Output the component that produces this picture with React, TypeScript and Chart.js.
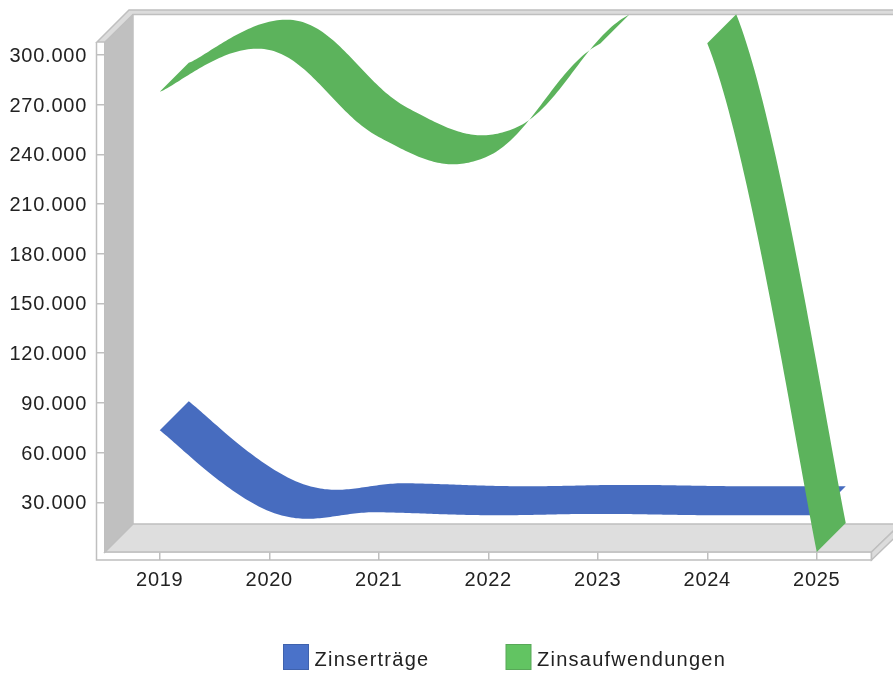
import React, { useEffect, useRef } from "react";
import { Chart, registerables } from "chart.js";

Chart.register(...registerables);

const categories = ["2019", "2020", "2021", "2022", "2023", "2024", "2025"];
const yTickValues = [30000, 60000, 90000, 120000, 150000, 180000, 210000, 240000, 270000, 300000];
const zinsertraege = [73500, 24600, 24000, 22200, 23000, 22200, 22200];
const zinsaufwendungen = [277700, 303000, 250500, 239000, 306000, 307000, 0];
const seriesNames = ["Zinserträge", "Zinsaufwendungen"];
const ribbonColors = ["#476cbf", "#5cb35c"];
const legendFills = ["#4a72c9", "#62c462"];
const legendBorders = ["#3f62ad", "#58a858"];

const FONT = '"Liberation Sans", Arial, sans-serif';
const LINE = "#bfbfbf";
const DEPTH = 29;
const TOP = 14.5;
const WIDTH = 893;
const HANDLE_X = 0.19;
const HANDLE_Y = 0.205;

const numberLabel = (v: number) => String(v).replace(/\B(?=(\d{3})+(?!\d))/g, ".");

const spacing = {
  id: "spacing",
  beforeDraw(chart: any) {
    chart.ctx.letterSpacing = "0.75px";
    const y = chart.scales.y;
    if (!y.__shifted) {
      y.__shifted = true;
      const draw = y.drawLabels.bind(y);
      y.drawLabels = (area: any) => {
        chart.ctx.save();
        chart.ctx.translate(0, 1.5);
        draw(area);
        chart.ctx.restore();
      };
    }
  },
};

const walls = {
  id: "walls",
  beforeDatasetsDraw(chart: any) {
    const { ctx, chartArea: a } = chart;
    const poly = (pts: number[][], fill: string, stroke = LINE) => {
      ctx.beginPath();
      pts.forEach(([x, y], i) => (i ? ctx.lineTo(x, y) : ctx.moveTo(x, y)));
      ctx.closePath();
      ctx.fillStyle = fill;
      ctx.fill();
      ctx.strokeStyle = stroke;
      ctx.lineWidth = 1.5;
      ctx.stroke();
    };
    const bx = a.left + DEPTH - 1;
    const by = a.bottom - DEPTH + 1;
    ctx.save();
    poly([[a.left, a.top], [bx, TOP], [bx, by], [a.left, a.bottom]], "#c0c0c0", "#c0c0c0");
    poly([[a.left, a.bottom], [bx, by], [a.right + DEPTH, by], [a.right, a.bottom]], "#dedede");
    poly([[a.left - 8, a.top], [a.left - 8 + DEPTH + 3, 10], [WIDTH + 2, 10], [WIDTH + 2, TOP], [bx, TOP], [a.left, a.top]], "#dcdcdc");
    ctx.strokeStyle = LINE;
    ctx.lineWidth = 1.5;
    ctx.beginPath();
    ctx.moveTo(a.left - 8.5, a.top);
    ctx.lineTo(a.left - 8.5, a.bottom + 8);
    ctx.lineTo(a.right, a.bottom + 8);
    ctx.lineTo(a.right, a.bottom);
    ctx.stroke();
    poly([[a.right, a.bottom], [a.right + DEPTH, by], [a.right + DEPTH, by + 8], [a.right, a.bottom + 8]], "#dcdcdc");
    ctx.restore();
  },
};

const ribbons = {
  id: "ribbons",
  afterDatasetsDraw(chart: any) {
    const { ctx, chartArea: a } = chart;
    ctx.save();
    ctx.beginPath();
    ctx.rect(a.left, TOP, WIDTH - a.left, a.bottom - TOP);
    ctx.clip();
    chart.data.datasets.forEach((ds: any, di: number) => {
      const pts = chart.getDatasetMeta(di).data;
      const n = pts.length;
      let run: number[][] = [];
      const flush = () => {
        if (run.length > 1) {
          ctx.beginPath();
          run.forEach(([x, y], i) => (i ? ctx.lineTo(x, y) : ctx.moveTo(x, y)));
          for (let i = run.length - 1; i >= 0; i--) ctx.lineTo(run[i][0] + DEPTH, run[i][1] - DEPTH);
          ctx.closePath();
          ctx.fillStyle = ds.ribbonColor;
          ctx.fill();
        }
        run = [];
      };
      for (let s = 0; s < n - 1; s++) {
        const p = pts[s];
        const q = pts[s + 1];
        const before = pts[Math.max(s - 1, 0)];
        const after = pts[Math.min(s + 2, n - 1)];
        const c1x = p.x + HANDLE_X * (q.x - before.x);
        const c1y = p.y + HANDLE_Y * (q.y - before.y);
        const c2x = q.x - HANDLE_X * (after.x - p.x);
        const c2y = q.y - HANDLE_Y * (after.y - p.y);
        let exited = false;
        for (let k = 0; k <= 48; k++) {
          const t = k / 48;
          const u = 1 - t;
          const x = u * u * u * p.x + 3 * u * u * t * c1x + 3 * u * t * t * c2x + t * t * t * q.x;
          const y = u * u * u * p.y + 3 * u * u * t * c1y + 3 * u * t * t * c2y + t * t * t * q.y;
          if (y - DEPTH < TOP - 1) {
            exited = true;
            break;
          }
          run.push([x, y]);
        }
        if (exited) flush();
      }
      flush();
    });
    ctx.restore();
  },
};

const legendBoxes = {
  id: "legendBoxes",
  afterDraw(chart: any) {
    const { ctx } = chart;
    const xs = [283.5, 506];
    ctx.save();
    ctx.font = `20px ${FONT}`;
    ctx.letterSpacing = "1.25px";
    ctx.textBaseline = "middle";
    ctx.textAlign = "left";
    chart.data.datasets.forEach((ds: any, i: number) => {
      ctx.fillStyle = ds.backgroundColor;
      ctx.strokeStyle = ds.borderColor;
      ctx.lineWidth = 1;
      ctx.fillRect(xs[i], 644.5, 25, 25);
      ctx.strokeRect(xs[i], 644.5, 25, 25);
      ctx.fillStyle = "#222";
      ctx.fillText(ds.label, xs[i] + 31, 660);
    });
    ctx.restore();
  },
};

export default function App() {
  const ref = useRef<HTMLCanvasElement>(null);
  useEffect(() => {
    const chart = new Chart(ref.current as HTMLCanvasElement, {
      type: "line",
      data: {
        labels: categories,
        datasets: [zinsertraege, zinsaufwendungen].map((data, i) => ({
          label: seriesNames[i],
          data,
          showLine: false,
          pointRadius: 0,
          backgroundColor: legendFills[i],
          borderColor: legendBorders[i],
          ribbonColor: ribbonColors[i],
        })),
      } as any,
      options: {
        animation: false,
        responsive: false,
        layout: { padding: { top: 42, left: 0, right: 21.5, bottom: 0 } },
        plugins: { legend: { display: false }, tooltip: { enabled: false } },
        scales: {
          x: {
            offset: true,
            afterFit: (s: any) => { s.height = 121; },
            grid: { offset: false, drawOnChartArea: false, tickLength: 8, color: LINE, lineWidth: 1.5 },
            border: { color: LINE, width: 1.5 },
            ticks: { color: "#222", padding: 8, font: { family: FONT, size: 20 }, maxRotation: 0 },
          },
          y: {
            min: 0,
            max: 307800,
            afterFit: (s: any) => { s.width = 105; },
            afterBuildTicks: (s: any) => { s.ticks = yTickValues.map((value) => ({ value })); },
            grid: { drawOnChartArea: false, tickLength: 8, color: LINE, lineWidth: 1.5 },
            border: { color: LINE, width: 1.5 },
            ticks: {
              autoSkip: false,
              color: "#222",
              padding: 10,
              font: { family: FONT, size: 20 },
              callback: (v: any) => numberLabel(Number(v)),
            },
          },
        },
      },
      plugins: [spacing, walls, ribbons, legendBoxes],
    } as any);
    return () => chart.destroy();
  }, []);
  return (
    <div style={{ position: "absolute", left: 0, top: 0, width: 893, height: 673, background: "#fff" }}>
      <canvas ref={ref} width={893} height={673} style={{ display: "block" }} />
    </div>
  );
}
